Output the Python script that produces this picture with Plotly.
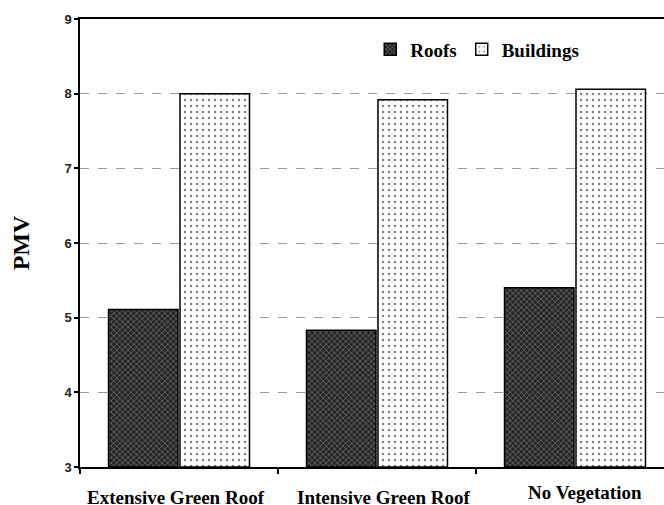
import plotly.graph_objects as go

categories = ["Extensive Green Roof", "Intensive Green Roof", "No Vegetation"]
roofs = [5.11, 4.83, 5.40]
buildings = [8.00, 7.92, 8.06]
series_names = ["Roofs", "Buildings"]
y_ticks = [3, 4, 5, 6, 7, 8, 9]
y_title = "PMV"

xpos = list(range(len(categories)))

fig = go.Figure()
fig.add_trace(go.Bar(
    x=xpos, y=[v - 3 for v in roofs], base=3, name="<b>%s</b>" % series_names[0],
    marker=dict(color="#2a2a2a", line=dict(color="black", width=1.5),
                pattern=dict(shape="x", fgcolor="#b0b0b0", bgcolor="#262626",
                             size=4, solidity=0.35)),
))
fig.add_trace(go.Bar(
    x=xpos, y=[v - 3 for v in buildings], base=3, name="<b>%s</b>" % series_names[1],
    marker=dict(color="white", line=dict(color="black", width=1.5),
                pattern=dict(shape=".", fgcolor="black", bgcolor="white",
                             size=6, solidity=0.12)),
))

# category labels (slightly offset as in the original figure)
label_xshift = [-3.5, 6.5, 10]
label_yshift = [-18, -18, -13]
for i, c in enumerate(categories):
    fig.add_annotation(x=xpos[i], xref="x", y=0, yref="paper",
                       text="<b>%s</b>" % c, showarrow=False,
                       xanchor="center", yanchor="top",
                       xshift=label_xshift[i], yshift=label_yshift[i],
                       font=dict(family="Liberation Serif", size=19, color="black"))

fig.update_layout(
    width=664, height=505,
    margin=dict(l=80, r=0, t=19, b=38),
    paper_bgcolor="white", plot_bgcolor="white",
    barmode="group", bargap=0.278, bargroupgap=0.028,
    showlegend=True,
    legend=dict(orientation="h", x=0.497, y=0.932, xanchor="left", yanchor="middle",
                font=dict(family="Liberation Serif", size=19, color="black"),
                itemwidth=30, bgcolor="rgba(0,0,0,0)"),
    xaxis=dict(
        automargin=False,
        range=[-0.5, 2.4495],
        tickmode="array", tickvals=xpos, ticktext=["" for c in categories],
        ticks="", showgrid=False, zeroline=False,
        showline=True, linecolor="black", linewidth=1.5, mirror=True,
        minor=dict(tickmode="array", tickvals=[-0.5, 0.5, 1.5], ticks="outside",
                   ticklen=5, tickcolor="black", tickwidth=1.5, showgrid=False),
    ),
    yaxis=dict(
        automargin=False,
        range=[3, 9], tickmode="array", tickvals=y_ticks,
        ticktext=["<b>%d</b>" % v for v in y_ticks],
        ticks="outside", ticklen=4, tickcolor="black", tickwidth=1.5,
        showline=True, linecolor="black", linewidth=1.5,
        showgrid=True, gridcolor="#9a9a9a", griddash="dash", gridwidth=1,
        zeroline=False,
        tickfont=dict(family="Liberation Sans", size=13, color="#222222"),
        title=dict(text="<b>%s</b>" % y_title,
                   font=dict(family="Liberation Serif", size=24, color="black"),
                   standoff=28),
    ),
)

fig.write_html("out.html", config={"displayModeBar": False},
               post_script="document.body.style.margin='0';")
